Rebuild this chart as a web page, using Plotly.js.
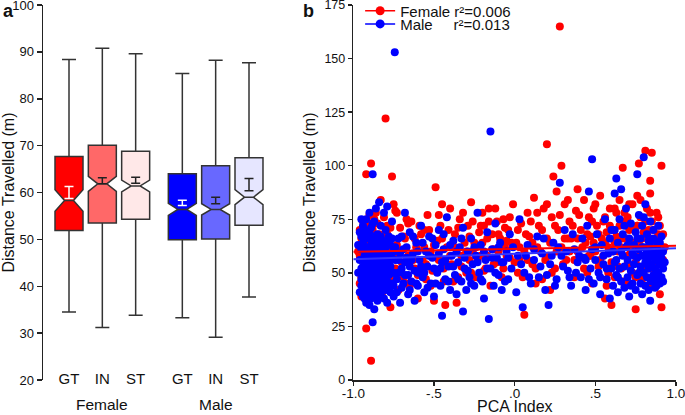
<!DOCTYPE html>
<html>
<head>
<meta charset="utf-8">
<script src="https://cdn.plot.ly/plotly-3.0.1.min.js"></script>
<style>html,body{margin:0;padding:0;background:#fff;}#chart{width:685px;height:415px;}</style>
</head>
<body>
<div id="chart"></div>
<script>
// ---------- Panel a data (box statistics) ----------
const groups = ['Female', 'Male'];
const conditions = ['GT', 'IN', 'ST'];
const q1 = [51.9, 53.5, 54.3, 49.9, 50.1, 53.0];
const medians = [58.3, 61.85, 61.4, 56.4, 56.4, 59.0];
const q3 = [67.7, 70.1, 68.8, 64.0, 65.7, 67.4];
const lowerWhisker = [34.5, 31.2, 33.8, 33.3, 29.1, 37.7];
const upperWhisker = [88.4, 90.8, 89.6, 85.4, 88.2, 87.7];
const notchSpan = [2.3, 1.6, 1.25, 1.3, 1.2, 1.6];
const means = [60.0, 62.5, 62.6, 57.8, 58.3, 61.7];
const sems = [1.3, 0.63, 0.64, 0.55, 0.7, 1.3];

// ---------- Panel b data (scatter points) ----------
const femaleX = [-0.96,-0.96,-0.95,-0.95,-0.94,-0.94,-0.93,-0.93,-0.92,-0.92,-0.92,-0.92,-0.91,-0.91,-0.9,-0.9,-0.89,-0.89,-0.89,-0.88,-0.88,-0.87,-0.87,-0.86,-0.86,-0.85,-0.85,-0.84,-0.84,-0.83,-0.83,-0.82,-0.82,-0.81,-0.81,-0.8,-0.8,-0.79,-0.78,-0.77,-0.77,-0.76,-0.76,-0.75,-0.75,
-0.73,-0.72,-0.71,-0.7,-0.69,-0.68,-0.66,-0.65,-0.64,-0.62,-0.61,-0.6,-0.58,-0.57,-0.55,-0.54,-0.52,-0.51,-0.5,-0.49,-0.48,-0.47,-0.46,-0.44,-0.43,-0.42,-0.4,-0.39,-0.37,-0.36,-0.35,-0.34,-0.33,-0.31,-0.3,
-0.29,-0.28,-0.27,-0.25,-0.24,-0.22,-0.21,-0.2,-0.18,-0.17,-0.16,-0.15,-0.13,-0.12,-0.11,-0.1,-0.08,-0.07,-0.06,-0.04,-0.03,-0.01,0.01,0.02,0.04,0.06,0.06,0.08,0.09,0.11,0.12,0.14,0.15,0.17,0.18,0.2,0.2,0.21,0.23,0.24,0.25,0.26,0.27,0.28,0.29,0.29,0.31,0.32,0.34,0.35,0.37,0.38,0.39,0.39,
0.41,0.42,0.43,0.44,0.45,0.46,0.47,0.48,0.49,0.5,0.51,0.52,0.53,0.54,0.55,0.56,0.57,0.57,0.58,0.6,0.59,0.6,0.56,
0.61,0.62,0.63,0.64,0.65,0.66,0.67,0.67,0.68,0.69,0.7,0.71,0.72,0.73,0.74,0.75,0.75,0.76,0.77,0.77,0.78,0.79,0.8,0.81,0.81,0.82,0.83,0.84,0.84,0.84,0.85,0.85,0.86,0.87,0.88,0.88,0.89,0.9,0.9,0.91,0.91,0.91,0.92,
-0.93,-0.9,-0.86,-0.83,-0.79,-0.74,-0.67,-0.56,-0.45,-0.26,-0.19,-0.05,0.03,0.13,0.22,0.33,0.47,0.62,0.7,0.76,0.83,0.87,0.89,
-0.97,-0.96,-0.95,-0.94,-0.93,-0.92,-0.91,-0.9,-0.88,-0.87,-0.86,-0.84,-0.83,-0.81,-0.8,-0.79,-0.78,-0.77,-0.74,-0.73,-0.71,-0.69,-0.67,-0.66,-0.63,-0.62,-0.6,-0.59,-0.56,-0.55,-0.53,-0.52,-0.5,-0.48,-0.47,-0.45,-0.44,-0.41,-0.4,-0.38,-0.37,-0.35,-0.33,-0.32,-0.3,-0.28,-0.27,-0.26,-0.24,-0.23,-0.21,-0.2,-0.19,-0.17,-0.16,-0.14,-0.13,-0.11,-0.1,-0.09,-0.07,-0.06,-0.05,-0.03,-0.02,0.0,0.02,0.03,0.05,0.07,0.08,0.1,0.11,0.13,0.14,0.16,0.17,0.19,0.2,0.22,0.23,0.25,0.26,0.28,0.3,0.31,0.33,0.34,0.36,0.37,0.39,0.4,0.42,0.43,0.45,0.46,0.48,0.49,0.5,0.52,0.53,0.55,0.56,0.58,0.59,0.61,0.62,0.63,0.64,0.65,0.66,0.67,0.68,0.69,0.7,0.71,0.72,0.73,0.74,0.75,0.76,0.77,0.78,0.79,0.8,0.81,0.82,0.83,0.84,0.85,0.86,0.87,0.88,0.89,0.9,0.91,0.92,0.93];
const femaleY = [45,58,39,66,51,74,43,61,24,96,55,69,47,38,63,77,9,101,53,42,70,58,47,66,39,55,73,44,61,50,84,67,41,57,76,122,46,63,54,34,71,95,48,59,82,
63,42,71,55,48,66,58,44,74,52,62,38,68,56,47,77,60,51,37,90,65,56,72,46,35,62,80,54,68,36,48,75,58,64,50,
72,56,83,64,48,69,58,78,52,66,74,44,61,80,55,68,48,75,62,70,57,82,64,50,73,30.5,60,78,67,54,85,62,72,47,80,110,66,58,76,95,52,88,70,165,100,62,82,56,74,66,48,79,89,60,
70,57,84,64,50,76,67,45,80,60,72,53,86,66,58,76,44,69,62,35,80,55,38,
70,48,78,60,84,52,99,66,74,45,58,82,63,50,71,33,55,86,101,64,76,47,69,107,58,80,52,93,87,66,106,74,44,61,78,55,68,40,72,34,100,62,56,
64,72,78,62,68,79,75,70,82,60,72,65,56,45,42,66,58,64,76,72,70,46,65,
60,70,48,57,66,44,72,52,62,75,50,68,45,64,55,72,42,61,52,78,60,67,45,73,56,66,49,72,62,54,70,44,63,57,77,66,52,70,58,46,62,71,53,78,60,67,50,74,62,56,72,64,51,58,80,68,54,74,60,66,52,71,58,76,64,55,70,62,48,68,56,74,64,52,78,60,70,56,82,64,50,72,60,77,54,66,84,60,72,56,66,77,62,52,68,58,74,64,82,68,56,74,64,50,72,60,80,67,53,72,62,46,78,66,54,70,60,82,64,48,72,58,84,66,52,74,62,44,78,58,70,50,66,76,58,46,68,62];

const maleX = [-0.95,-0.95,-0.95,-0.95,-0.94,-0.94,-0.94,-0.94,-0.94,-0.93,-0.93,-0.93,-0.93,-0.92,-0.92,-0.92,-0.92,-0.92,-0.91,-0.91,-0.91,-0.91,-0.9,-0.9,-0.9,-0.9,-0.9,-0.89,-0.89,-0.89,-0.89,-0.89,-0.88,-0.88,-0.88,-0.88,-0.87,-0.87,-0.87,-0.87,-0.87,-0.87,-0.86,-0.86,-0.86,-0.86,-0.85,-0.85,-0.85,-0.85,-0.85,-0.84,-0.84,-0.84,-0.84,-0.83,-0.83,-0.83,-0.83,-0.82,-0.82,-0.82,-0.81,-0.81,-0.81,-0.81,-0.8,-0.8,-0.8,-0.8,-0.79,-0.79,-0.79,-0.79,-0.78,-0.78,-0.78,-0.77,-0.77,-0.77,-0.76,-0.76,-0.76,-0.75,-0.75,-0.75,-0.88,-0.88,-0.743,
-0.73,-0.72,-0.72,-0.71,-0.7,-0.7,-0.69,-0.68,-0.68,-0.67,-0.66,-0.65,-0.65,-0.64,-0.63,-0.62,-0.61,-0.6,-0.6,-0.59,-0.58,-0.57,-0.56,-0.55,-0.54,-0.53,-0.52,-0.51,-0.5,-0.49,-0.48,-0.47,-0.46,-0.45,-0.45,-0.44,-0.43,-0.42,-0.41,-0.4,-0.39,-0.38,-0.37,-0.36,-0.35,-0.34,-0.33,-0.32,-0.32,-0.31,-0.3,
-0.29,-0.28,-0.27,-0.26,-0.25,-0.24,-0.23,-0.22,-0.21,-0.2,-0.19,-0.18,-0.17,-0.16,-0.15,-0.15,-0.14,-0.13,-0.12,-0.11,-0.1,-0.09,-0.08,-0.07,-0.05,-0.04,-0.03,-0.02,0.01,0.02,0.03,0.05,0.06,0.08,0.1,0.12,0.14,0.15,0.17,0.19,0.21,0.22,0.24,0.26,0.28,0.29,0.31,0.33,0.35,0.37,0.39,
0.41,0.42,0.43,0.44,0.45,0.46,0.47,0.48,0.48,0.49,0.5,0.51,0.52,0.53,0.54,0.55,0.56,0.57,0.58,0.59,0.59,0.6,
0.61,0.61,0.62,0.62,0.63,0.63,0.63,0.64,0.64,0.65,0.65,0.66,0.66,0.67,0.67,0.68,0.68,0.69,0.69,0.7,0.7,0.71,0.71,0.72,0.72,0.73,0.73,0.74,0.74,0.75,0.75,0.76,0.76,0.76,0.77,0.77,0.78,0.78,0.78,0.79,0.79,0.79,0.8,0.8,0.8,0.81,0.81,0.81,0.82,0.82,0.82,0.83,0.83,0.83,0.84,0.84,0.84,0.85,0.85,0.85,0.86,0.86,0.86,0.87,0.87,0.87,0.88,0.88,0.88,0.89,0.89,0.89,0.9,0.9,0.9,0.91,0.91,0.92,0.92,
-0.97,-0.97,-0.96,-0.96,-0.96,-0.95,-0.95,-0.94,-0.93,-0.93,-0.92,-0.92,-0.91,-0.91,-0.9,-0.9,-0.89,-0.89,-0.88,-0.88,-0.87,-0.86,-0.86,-0.85,-0.84,-0.84,-0.83,-0.83,-0.82,-0.82,-0.81,-0.81,-0.8,-0.8,-0.79,-0.78,-0.78,-0.77,-0.76,-0.76,-0.75,-0.74,-0.74,-0.73,-0.72,-0.71,-0.7,-0.69,-0.68,-0.67,-0.66,-0.65,-0.64,-0.63,-0.62,-0.61,-0.6,-0.58,-0.57,-0.56,-0.54,-0.53,-0.51,-0.5,-0.49,-0.47,-0.46,-0.44,-0.43,-0.41,-0.4,-0.38,-0.36,-0.35,-0.33,-0.31,-0.29,-0.27,-0.25,-0.23,-0.21,-0.19,-0.17,-0.14,-0.12,-0.1,-0.08,-0.06,-0.04,-0.01,0.04,0.07,0.09,0.12,0.16,0.18,0.2,0.23,0.25,0.27,0.3,0.32,0.34,0.36,0.38,0.4,0.44,0.46,0.5,0.53,0.55,0.57,0.6,0.62,0.64,0.66,0.68,0.7,0.72,0.74,0.76,0.77,0.79,0.8,0.82,0.83,0.84,0.85,0.86,0.87,0.88,0.89,0.9,0.91,0.92,0.93];
const maleY = [44,52,61,67,39,48,56,64,72,42,50,58,70,46,54,62,75,36,41,49,57,66,44,52,60,69,78,38,47,55,63,71,43,51,59,67,33,40,48,57,65,74,45,53,61,80,37,42,50,58,68,46,55,63,83,40,49,60,72,44,53,65,38,47,57,78,42,51,62,70,36,46,55,81,49,59,67,41,53,63,45,57,74,39,50,60,96,27,153,
47,56,66,36,52,43,61,78,49,57,40,53,69,46,59,37,64,50,44,56,72,48,41,60,53,67,45,57,39,63,50,70,44,30,55,61,47,76,53,42,58,65,49,40,55,62,46,32,71,52,42,
60,48,66,54,44,58,78,50,63,46,38,56,69,28.5,116,52,61,44,73,57,49,64,42,55,60,47,68,52,41,58,75,34,50,63,45,56,67,48,59,42,35,54,64,47,92,58,70,51,44,61,55,
48,66,57,42,72,88,52,103,61,45,56,68,50,40,63,54,75,47,59,38,66,52,
44,60,70,87,49,56,94,41,64,52,75,89,46,58,68,43,53,62,80,48,56,39,66,51,73,45,59,63,54,42,69,96,49,57,61,77,45,53,66,40,58,72,104,50,62,44,55,82,48,60,68,42,52,57,37,64,74,46,54,61,49,58,70,43,52,65,47,56,62,50,59,72,45,54,64,48,57,52,60,
50,63,41,56,69,47,75,53,38,62,49,67,44,60,56,35,50,67,45,73,54,41,58,64,50,39,56,67,48,60,43,52,57,46,65,44,54,58,50,66,44,56,62,41,50,59,67,45,55,62,49,42,56,67,51,45,60,53,64,50,43,58,66,52,45,59,52,68,56,46,63,53,60,47,66,57,51,45,62,55,47,60,52,57,50,62,55,46,57,62,54,58,48,61,53,66,49,58,44,62,53,60,48,68,50,58,56,47,62,48,58,52,70,55,48,60,72,63,44,58,66,50,62,76,54,65,47,58,66,56,44,64,58,67,46,55];

// Linear fits (end values)
const fitX = [-1, 1];
const femaleFit = [59.8, 62.6];
const maleFit = [56.3, 61.5];
const r2 = {Female: '0.006', Male: '0.013'};

// ---------- Styles ----------
const boxFill = ['#ff0000', '#ff6868', '#ffe8e8', '#0000ff', '#6868ff', '#e6e6ff'];
const errColor = ['#ffffff', '#222222', '#222222', '#ffffff', '#222222', '#222222'];
const FONT = '"Liberation Sans", Arial, sans-serif';
const AX = '#222222';

const traces = [];
const tickvals = [], ticktext = [];
groups.forEach((g, gi) => {
  conditions.forEach((c, ci) => {
    const i = gi * conditions.length + ci;
    const pos = gi * 3.4 + ci;
    tickvals.push(pos); ticktext.push(c);
    traces.push({
      type: 'box', xaxis: 'x', yaxis: 'y',
      x: [pos], q1: [q1[i]], median: [medians[i]], q3: [q3[i]],
      lowerfence: [lowerWhisker[i]], upperfence: [upperWhisker[i]],
      notchspan: [notchSpan[i]], notched: true, notchwidth: 0.34,
      width: 0.84, whiskerwidth: 0.5, boxpoints: false,
      fillcolor: boxFill[i], line: {color: '#333333', width: 1.5},
      showlegend: false, hoverinfo: 'skip'
    });
  });
});
groups.forEach((g, gi) => {
  conditions.forEach((c, ci) => {
    const i = gi * conditions.length + ci;
    traces.push({
      type: 'scatter', mode: 'markers', xaxis: 'x', yaxis: 'y',
      x: [gi * 3.4 + ci], y: [means[i]],
      marker: {size: 1, opacity: 0},
      error_y: {type: 'data', array: [sems[i]], visible: true, color: errColor[i], thickness: 1.5, width: 4.5},
      showlegend: false, hoverinfo: 'skip'
    });
  });
});

// Panel b
traces.push({type: 'scatter', mode: 'markers', xaxis: 'x2', yaxis: 'y2', x: femaleX, y: femaleY,
  marker: {color: '#ff0000', size: 8}, showlegend: false, hoverinfo: 'skip'});
traces.push({type: 'scatter', mode: 'markers', xaxis: 'x2', yaxis: 'y2', x: maleX, y: maleY,
  marker: {color: '#0000ff', size: 8}, showlegend: false, hoverinfo: 'skip'});
traces.push({type: 'scatter', mode: 'lines', xaxis: 'x2', yaxis: 'y2', x: fitX, y: femaleFit,
  line: {color: '#ff0000', width: 2}, showlegend: false, hoverinfo: 'skip'});
traces.push({type: 'scatter', mode: 'lines', xaxis: 'x2', yaxis: 'y2', x: fitX, y: maleFit,
  line: {color: '#3333ff', width: 2}, showlegend: false, hoverinfo: 'skip'});
// legend entries (one legend per row so the rows sit as tightly as in the figure)
const NB = '\u00a0';
traces.push({type: 'scatter', mode: 'lines+markers', xaxis: 'x2', yaxis: 'y2', x: [null], y: [null], legend: 'legend',
  name: 'Female' + NB + 'r\u00b2=' + r2.Female, marker: {color: '#ff0000', size: 9}, line: {color: '#ff0000', width: 1.5}});
traces.push({type: 'scatter', mode: 'lines+markers', xaxis: 'x2', yaxis: 'y2', x: [null], y: [null], legend: 'legend2',
  name: 'Male' + NB.repeat(5) + 'r\u00b2=' + r2.Male, marker: {color: '#0000ff', size: 9}, line: {color: '#0000ff', width: 1.5}});

const legendBase = {x: 0.501, xanchor: 'left', yanchor: 'top', bgcolor: 'rgba(0,0,0,0)',
  font: {size: 15, family: FONT}, itemwidth: 30};

const layout = {
  width: 685, height: 415,
  margin: {l: 43, r: 9, t: 5, b: 35, autoexpand: false},
  paper_bgcolor: '#ffffff', plot_bgcolor: 'rgba(0,0,0,0)',
  font: {family: FONT, color: '#111111', size: 14},
  showlegend: true,
  legend: Object.assign({}, legendBase, {y: 1.028}),
  legend2: Object.assign({}, legendBase, {y: 0.993}),
  xaxis: {domain: [0, 0.3665], range: [-0.78, 6.18], tickvals: tickvals, ticktext: ticktext,
    showline: false, ticks: '', showgrid: false, zeroline: false, anchor: 'free', position: 0.032,
    tickfont: {size: 15}, fixedrange: true},
  yaxis: {domain: [0, 1], range: [20, 100], dtick: 10, tick0: 20, showline: true, linecolor: AX, linewidth: 1.5,
    ticks: 'outside', ticklen: 5, tickwidth: 1.5, tickcolor: AX, showgrid: false, zeroline: false,
    anchor: 'x', tickfont: {size: 13}, ticklabeloverflow: 'allow',
    title: {text: 'Distance Travelled (m)', font: {size: 16}, standoff: 3}},
  xaxis2: {domain: [0.4902, 1], range: [-1, 1], tickvals: [-1, -0.5, 0, 0.5, 1],
    ticktext: ['-1.0', '-.5', '.0', '.5', '1.0'], showline: true, linecolor: AX, linewidth: 1.5,
    ticks: 'outside', ticklen: 4, tickwidth: 1.5, tickcolor: AX, showgrid: false, zeroline: false,
    anchor: 'y2', tickfont: {size: 13.5}, ticklabelstandoff: -4, ticklabeloverflow: 'allow'},
  yaxis2: {domain: [0, 1], range: [0, 175], dtick: 25, tick0: 0, showline: true, linecolor: AX, linewidth: 1.5,
    ticks: 'outside', ticklen: 4, tickwidth: 1.5, tickcolor: AX, showgrid: false, zeroline: false,
    anchor: 'x2', tickfont: {size: 12.5}, ticklabeloverflow: 'allow',
    title: {text: 'Distance Travelled (m)', font: {size: 16}, standoff: 5}},
  annotations: [
    {text: '<b>a</b>', xref: 'paper', yref: 'paper', x: -0.066, y: 0.983, xanchor: 'left', yanchor: 'middle', showarrow: false, font: {size: 18}},
    {text: '<b>b</b>', xref: 'paper', yref: 'paper', x: 0.408, y: 0.985, xanchor: 'left', yanchor: 'middle', showarrow: false, font: {size: 18}},
    {text: groups[0], xref: 'x', yref: 'paper', x: 1, y: -0.064, xanchor: 'center', yanchor: 'middle', showarrow: false, font: {size: 15.5}},
    {text: groups[1], xref: 'x', yref: 'paper', x: 4.4, y: -0.064, xanchor: 'center', yanchor: 'middle', showarrow: false, font: {size: 15.5}},
    {text: 'PCA Index', xref: 'x2', yref: 'paper', x: 0, y: -0.071, xanchor: 'center', yanchor: 'middle', showarrow: false, font: {size: 16}}
  ]
};

Plotly.newPlot('chart', traces, layout, {displayModeBar: false, staticPlot: true});
</script>
</body>
</html>
